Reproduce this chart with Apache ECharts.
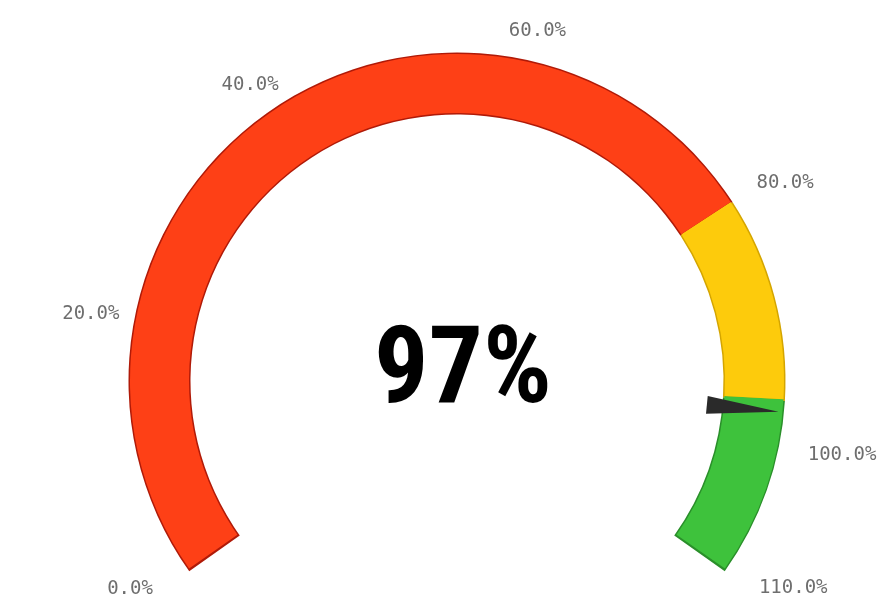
<!DOCTYPE html>
<html>
<head>
<meta charset="utf-8">
<script src="https://cdn.jsdelivr.net/npm/echarts@6/dist/echarts.min.js"></script>
<style>
  html, body { margin: 0; padding: 0; background: #fff; }
  #chart { width: 884px; height: 597px; }
</style>
</head>
<body>
<div id="chart"></div>
<script>
// gauge data
const gaugeValue = 97
const axisMin = 0
const axisMax = 110
const labelTicks = [0, 20, 40, 60, 80, 100, 110]
const bandLimits = [80, 96, 110]
const bandColors = ['#fe4016', '#fdcb0c', '#3ec23c']
const bandEdgeColors = ['#b01a08', '#d4a500', '#2a8f2a']

function bandStops(colors) {
  return bandLimits.map((v, i) => [(v - axisMin) / (axisMax - axisMin), colors[i]])
}

const hidden = { show: false }

const chart = echarts.init(document.getElementById('chart'))
chart.setOption({
  backgroundColor: '#fff',
  animation: false,
  series: [
    // dark edge behind the ring
    {
      type: 'gauge',
      center: [457, 381],
      radius: 328.5,
      startAngle: 215.4,
      endAngle: -35.4,
      min: axisMin,
      max: axisMax,
      axisLine: { lineStyle: { width: 62, color: bandStops(bandEdgeColors) } },
      axisTick: hidden,
      splitLine: hidden,
      axisLabel: hidden,
      pointer: hidden,
      anchor: hidden,
      title: hidden,
      detail: hidden,
      data: [{ value: gaugeValue }]
    },
    // main ring, pointer and value
    {
      type: 'gauge',
      center: [457, 381],
      radius: 327,
      startAngle: 215,
      endAngle: -35,
      min: axisMin,
      max: axisMax,
      axisLine: { lineStyle: { width: 59, color: bandStops(bandColors) } },
      axisTick: hidden,
      splitLine: hidden,
      axisLabel: hidden,
      pointer: {
        icon: 'triangle',
        length: 72,
        width: 18,
        offsetCenter: [0, -251],
        itemStyle: { color: '#2a2a2a' }
      },
      anchor: hidden,
      title: hidden,
      detail: {
        formatter: '{value}%',
        offsetCenter: [6, -6],
        fontSize: 108,
        fontWeight: 'bold',
        fontFamily: '"Roboto Condensed", "Liberation Sans Narrow", Roboto, sans-serif',
        color: '#000'
      },
      data: [{ value: gaugeValue }]
    },
    // tick labels
    {
      type: 'gauge',
      center: [463, 396],
      radius: 327,
      startAngle: 211.3,
      endAngle: -31.1,
      min: axisMin,
      max: axisMax,
      splitNumber: 11,
      axisLine: hidden,
      axisTick: hidden,
      splitLine: { show: false, length: 0, distance: 0 },
      axisLabel: {
        distance: -45,
        padding: [-9, -46, -9, -38],
        color: '#6e6e6e',
        fontSize: 19,
        fontFamily: '"DejaVu Sans Mono", monospace',
        formatter: function (v) {
          return labelTicks.indexOf(Math.round(v)) > -1 ? v.toFixed(1) + '%' : ''
        }
      },
      pointer: hidden,
      anchor: hidden,
      title: hidden,
      detail: hidden,
      data: [{ value: axisMin }]
    }
  ]
})
</script>
</body>
</html>
